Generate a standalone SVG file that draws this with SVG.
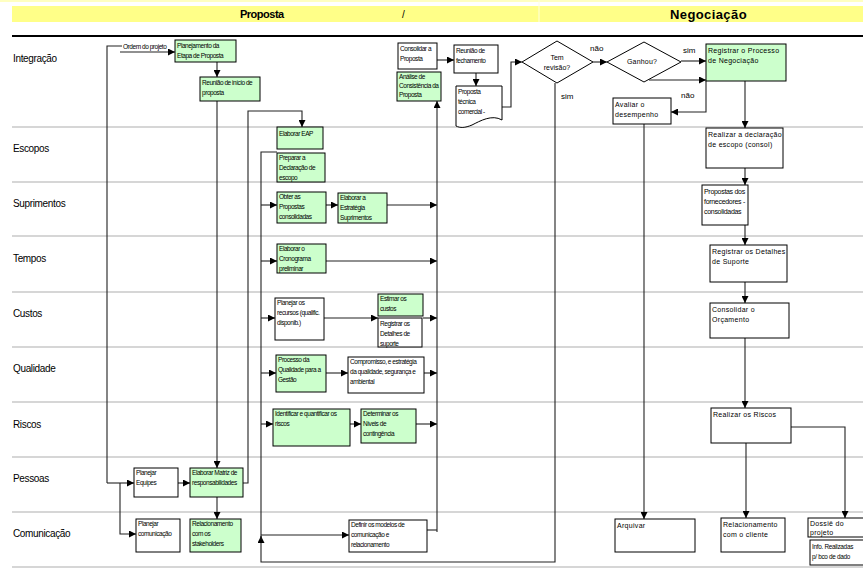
<svg xmlns="http://www.w3.org/2000/svg" width="863" height="568" viewBox="0 0 863 568">
<defs>
<marker id="ah" viewBox="0 0 10 10" refX="10" refY="5" markerWidth="7" markerHeight="7" orient="auto" markerUnits="userSpaceOnUse"><path d="M0,0 L10,5 L0,10 z" fill="#000"/></marker>
<style>
.bx{stroke:#000;stroke-width:1;fill:#fff}
.gr{fill:#CCFFCC}
.t{font-family:"Liberation Sans",Arial,sans-serif;font-size:6.5px;letter-spacing:-0.45px;fill:#000}
.tr{font-family:"Liberation Sans",Arial,sans-serif;font-size:7px;letter-spacing:0.3px;fill:#000}
.lane{font-family:"Liberation Sans",Arial,sans-serif;font-size:10px;letter-spacing:-0.35px;fill:#000}
.hd{font-family:"Liberation Sans",Arial,sans-serif;font-weight:bold;fill:#000}
.lbl{font-family:"Liberation Sans",Arial,sans-serif;font-size:8px;fill:#000}
.sep{stroke:#C8C8C8;stroke-width:1.5}
.c{fill:none;stroke:#222;stroke-width:1.1}
.ca{fill:none;stroke:#222;stroke-width:1.1;marker-end:url(#ah)}
</style>
</defs>
<rect width="863" height="568" fill="#fff"/>
<g id="header">
<rect x="0" y="0" width="863" height="2" fill="#FFFFC0"/>
<rect x="12" y="6" width="851" height="16" fill="#FFFF88"/>
<line x1="539" y1="0" x2="539" y2="22" stroke="#FFFFE0" stroke-width="1"/>
<text class="hd" x="240" y="18" style="font-size:11px;letter-spacing:-0.5px">Proposta</text>
<text class="hd" x="402" y="18" style="font-size:10px;font-weight:normal">/</text>
<text class="hd" x="670" y="19" style="font-size:13px;letter-spacing:0.4px">Negociação</text>
<line x1="12" y1="36" x2="863" y2="36" stroke="#000" stroke-width="2"/>
</g>
<g id="lanes">
<line class="sep" x1="12" y1="127" x2="863" y2="127"/>
<line class="sep" x1="12" y1="182" x2="863" y2="182"/>
<line class="sep" x1="12" y1="236" x2="863" y2="236"/>
<line class="sep" x1="12" y1="292" x2="863" y2="292"/>
<line class="sep" x1="12" y1="347" x2="863" y2="347"/>
<line class="sep" x1="12" y1="402" x2="863" y2="402"/>
<line class="sep" x1="12" y1="457" x2="863" y2="457"/>
<line class="sep" x1="12" y1="512" x2="863" y2="512"/>
<line class="sep" x1="12" y1="567" x2="863" y2="567"/>
<text class="lane" x="13" y="62">Integração</text>
<text class="lane" x="13" y="152">Escopos</text>
<text class="lane" x="13" y="207">Suprimentos</text>
<text class="lane" x="13" y="262">Tempos</text>
<text class="lane" x="13" y="317">Custos</text>
<text class="lane" x="13" y="372">Qualidade</text>
<text class="lane" x="13" y="428">Riscos</text>
<text class="lane" x="13" y="482">Pessoas</text>
<text class="lane" x="13" y="537">Comunicação</text>
</g>
<g id="connectors">
<path class="c" d="M107,483 V46 H122"/>
<path class="ca" d="M120,52 H175"/>
<path class="ca" d="M107,483 H134"/>
<path class="ca" d="M120,483 V534 H136"/>
<path class="ca" d="M178,483 H190"/>
<path class="ca" d="M217,62 V77"/>
<path class="ca" d="M217,101 V468"/>
<path class="ca" d="M217,497 V519"/>
<path class="ca" d="M243,483 H248 V111 H302 V127"/>
<path class="ca" d="M555,83 V562 H261 V536"/>
<path class="c" d="M261,540 V152 H277"/>
<path class="ca" d="M261,205 H277"/>
<path class="ca" d="M261,261 H277"/>
<path class="ca" d="M261,318 H275"/>
<path class="ca" d="M261,373 H276"/>
<path class="ca" d="M261,424 H273"/>
<path class="ca" d="M261,535 H349"/>
<path class="ca" d="M326,205 H338"/>
<path class="ca" d="M387,205 H437"/>
<path class="ca" d="M326,261 H437"/>
<path class="ca" d="M324,318 H378"/>
<path class="ca" d="M423,318 H437"/>
<path class="ca" d="M326,373 H348"/>
<path class="ca" d="M424,373 H437"/>
<path class="ca" d="M350,424 H361"/>
<path class="ca" d="M416,424 H437"/>
<path class="c" d="M427,530 H437"/>
<path class="ca" d="M437,532 V101"/>
<path class="ca" d="M437,60 H454"/>
<path class="ca" d="M476,73 V86"/>
<path class="ca" d="M502,107 H511 V62 H522"/>
<path class="ca" d="M593,62 H607"/>
<path class="ca" d="M681,61 H706"/>
<path class="ca" d="M649,80 H706"/>
<path class="ca" d="M706,81 V112 H671"/>
<path class="ca" d="M644,124 V519"/>
<path class="ca" d="M745,81 V128"/>
<path class="ca" d="M745,168 V185"/>
<path class="ca" d="M745,225 V245"/>
<path class="ca" d="M745,282 V303"/>
<path class="ca" d="M745,338 V408"/>
<path class="ca" d="M746,443 V518"/>
<path class="ca" d="M791,427 H845 V518"/>
<text class="t" x="123" y="49">Ordem do projeto</text>
<text class="lbl" x="590" y="51">não</text>
<text class="lbl" x="561" y="99">sim</text>
<text class="lbl" x="683" y="53">sim</text>
<text class="lbl" x="681" y="98">não</text>
</g>
<g id="n1"><rect class="bx gr" x="175" y="40" width="61" height="22"/><text class="t" x="177" y="48">Planejamento da<tspan x="177" dy="10">Etapa de Proposta</tspan></text></g>
<g id="n2"><rect class="bx gr" x="200" y="77" width="60" height="24"/><text class="t" x="202" y="85">Reunião de início de<tspan x="202" dy="10">proposta</tspan></text></g>
<g id="n3"><rect class="bx" x="398" y="43" width="39" height="26"/><text class="t" x="400" y="51">Consolidar a<tspan x="400" dy="10">Proposta</tspan></text></g>
<g id="n4"><rect class="bx gr" x="397" y="72" width="44" height="29"/><text class="t" x="399" y="79">Análise de<tspan x="399" dy="9">Consistência da</tspan><tspan x="399" dy="9">Proposta</tspan></text></g>
<g id="n5"><rect class="bx" x="454" y="45" width="44" height="28"/><text class="t" x="456" y="53">Reunião de<tspan x="456" dy="10">fechamento</tspan></text></g>
<g id="n6"><path class="bx" d="M456,86 H502 V120 C492,114 480,121 472,125 C465,128 460,128 456,126 Z"/><text class="t" x="458" y="94">Proposta<tspan x="458" dy="10">técnica</tspan><tspan x="458" dy="10">comercial -</tspan></text></g>
<g id="n7"><path class="bx" d="M557,41 L593,62 L557,83 L522,62 Z"/><text class="tr" x="557" y="60" text-anchor="middle" style="letter-spacing:0px">Tem<tspan x="557" dy="10">revisão?</tspan></text></g>
<g id="n8"><path class="bx" d="M644,42 L681,62 L644,82 L607,62 Z"/><text class="tr" x="642" y="64" text-anchor="middle" style="letter-spacing:0.2px">Ganhou?</text></g>
<g id="n9"><rect class="bx gr" x="706" y="44" width="80" height="37"/><text class="tr" x="708" y="53">Registrar o Processo<tspan x="708" dy="10">de Negociação</tspan></text></g>
<g id="n10"><rect class="bx" x="613" y="98" width="58" height="26"/><text class="tr" x="615" y="107">Avaliar o<tspan x="615" dy="10">desempenho</tspan></text></g>
<g id="n11"><rect class="bx" x="706" y="128" width="77" height="40"/><text class="tr" x="708" y="137">Realizar a declaração<tspan x="708" dy="10">de escopo (consol)</tspan></text></g>
<g id="n12"><rect class="bx" x="702" y="185" width="46" height="40"/><text class="tr" x="704" y="194" style="letter-spacing:-0.3px">Propostas dos<tspan x="704" dy="10">fornecedores -</tspan><tspan x="704" dy="10">consolidadas</tspan></text></g>
<g id="n13"><rect class="bx" x="710" y="245" width="77" height="37"/><text class="tr" x="712" y="254">Registrar os Detalhes<tspan x="712" dy="10">de Suporte</tspan></text></g>
<g id="n14"><rect class="bx" x="710" y="303" width="79" height="35"/><text class="tr" x="712" y="312">Consolidar o<tspan x="712" dy="10">Orçamento</tspan></text></g>
<g id="n15"><rect class="bx" x="711" y="408" width="80" height="35"/><text class="tr" x="713" y="417">Realizar os Riscos</text></g>
<g id="n16"><rect class="bx" x="615" y="519" width="80" height="33"/><text class="tr" x="617" y="528">Arquivar</text></g>
<g id="n17"><rect class="bx" x="721" y="518" width="64" height="34"/><text class="tr" x="723" y="527">Relacionamento<tspan x="723" dy="10">com o cliente</tspan></text></g>
<g id="n18"><rect class="bx" x="808" y="518" width="60" height="19"/><text class="tr" x="810" y="526">Dossiê do<tspan x="810" dy="9">projeto</tspan></text></g>
<g id="n19"><rect class="bx" x="810" y="540" width="60" height="25"/><text class="tr" x="812" y="549" style="font-size:6.4px;letter-spacing:-0.3px">Info. Realizadas<tspan x="812" dy="10">p/ bco de dado</tspan></text></g>
<g id="n20"><rect class="bx gr" x="277" y="127" width="46" height="22"/><text class="t" x="279" y="136">Elaborar EAP</text></g>
<g id="n21"><rect class="bx gr" x="277" y="153" width="48" height="29"/><text class="t" x="279" y="160">Preparar a<tspan x="279" dy="10">Declaração de</tspan><tspan x="279" dy="10">escopo</tspan></text></g>
<g id="n22"><rect class="bx gr" x="277" y="192" width="49" height="31"/><text class="t" x="279" y="199">Obter as<tspan x="279" dy="10">Propostas</tspan><tspan x="279" dy="10">consolidadas</tspan></text></g>
<g id="n23"><rect class="bx gr" x="338" y="193" width="49" height="30"/><text class="t" x="340" y="200">Elaborar a<tspan x="340" dy="10">Estratégia</tspan><tspan x="340" dy="10">Suprimentos</tspan></text></g>
<g id="n24"><rect class="bx gr" x="277" y="244" width="49" height="29"/><text class="t" x="279" y="251">Elaborar o<tspan x="279" dy="10">Cronograma</tspan><tspan x="279" dy="10">preliminar</tspan></text></g>
<g id="n25"><rect class="bx" x="275" y="298" width="49" height="42"/><text class="t" x="277" y="305">Planejar os<tspan x="277" dy="10">recursos (qualific.</tspan><tspan x="277" dy="10">disponib.)</tspan></text></g>
<g id="n26"><rect class="bx gr" x="378" y="294" width="45" height="22"/><text class="t" x="380" y="301">Estimar os<tspan x="380" dy="10">custos</tspan></text></g>
<g id="n27"><rect class="bx" x="378" y="318" width="44" height="29"/><text class="t" x="380" y="326">Registrar os<tspan x="380" dy="10">Detalhes de</tspan><tspan x="380" dy="10">suporte</tspan></text></g>
<g id="n28"><rect class="bx gr" x="276" y="355" width="50" height="37"/><text class="t" x="278" y="362">Processo da<tspan x="278" dy="10">Qualidade para a</tspan><tspan x="278" dy="10">Gestão</tspan></text></g>
<g id="n29"><rect class="bx" x="348" y="357" width="76" height="36"/><text class="t" x="350" y="364">Compromisso, e estratégia<tspan x="350" dy="10">da qualidade, segurança e</tspan><tspan x="350" dy="10">ambiental</tspan></text></g>
<g id="n30"><rect class="bx gr" x="273" y="409" width="77" height="37"/><text class="t" x="275" y="416">Identificar e quantificar os<tspan x="275" dy="10">riscos</tspan></text></g>
<g id="n31"><rect class="bx gr" x="361" y="409" width="55" height="34"/><text class="t" x="363" y="416">Determinar os<tspan x="363" dy="10">Níveis de</tspan><tspan x="363" dy="10">contingência</tspan></text></g>
<g id="n32"><rect class="bx" x="134" y="468" width="44" height="29"/><text class="t" x="136" y="475">Planejar<tspan x="136" dy="10">Equipes</tspan></text></g>
<g id="n33"><rect class="bx gr" x="190" y="468" width="53" height="29"/><text class="t" x="192" y="475">Elaborar Matriz de<tspan x="192" dy="10">responsabilidades</tspan></text></g>
<g id="n34"><rect class="bx" x="136" y="519" width="44" height="33"/><text class="t" x="138" y="526">Planejar<tspan x="138" dy="10">comunicação</tspan></text></g>
<g id="n35"><rect class="bx gr" x="190" y="519" width="51" height="33"/><text class="t" x="192" y="526">Relacionamento<tspan x="192" dy="10">com os</tspan><tspan x="192" dy="10">stakeholders</tspan></text></g>
<g id="n36"><rect class="bx" x="349" y="520" width="78" height="32"/><text class="t" x="351" y="527">Definir os modelos de<tspan x="351" dy="10">comunicação e</tspan><tspan x="351" dy="10">relacionamento</tspan></text></g>
</svg>
